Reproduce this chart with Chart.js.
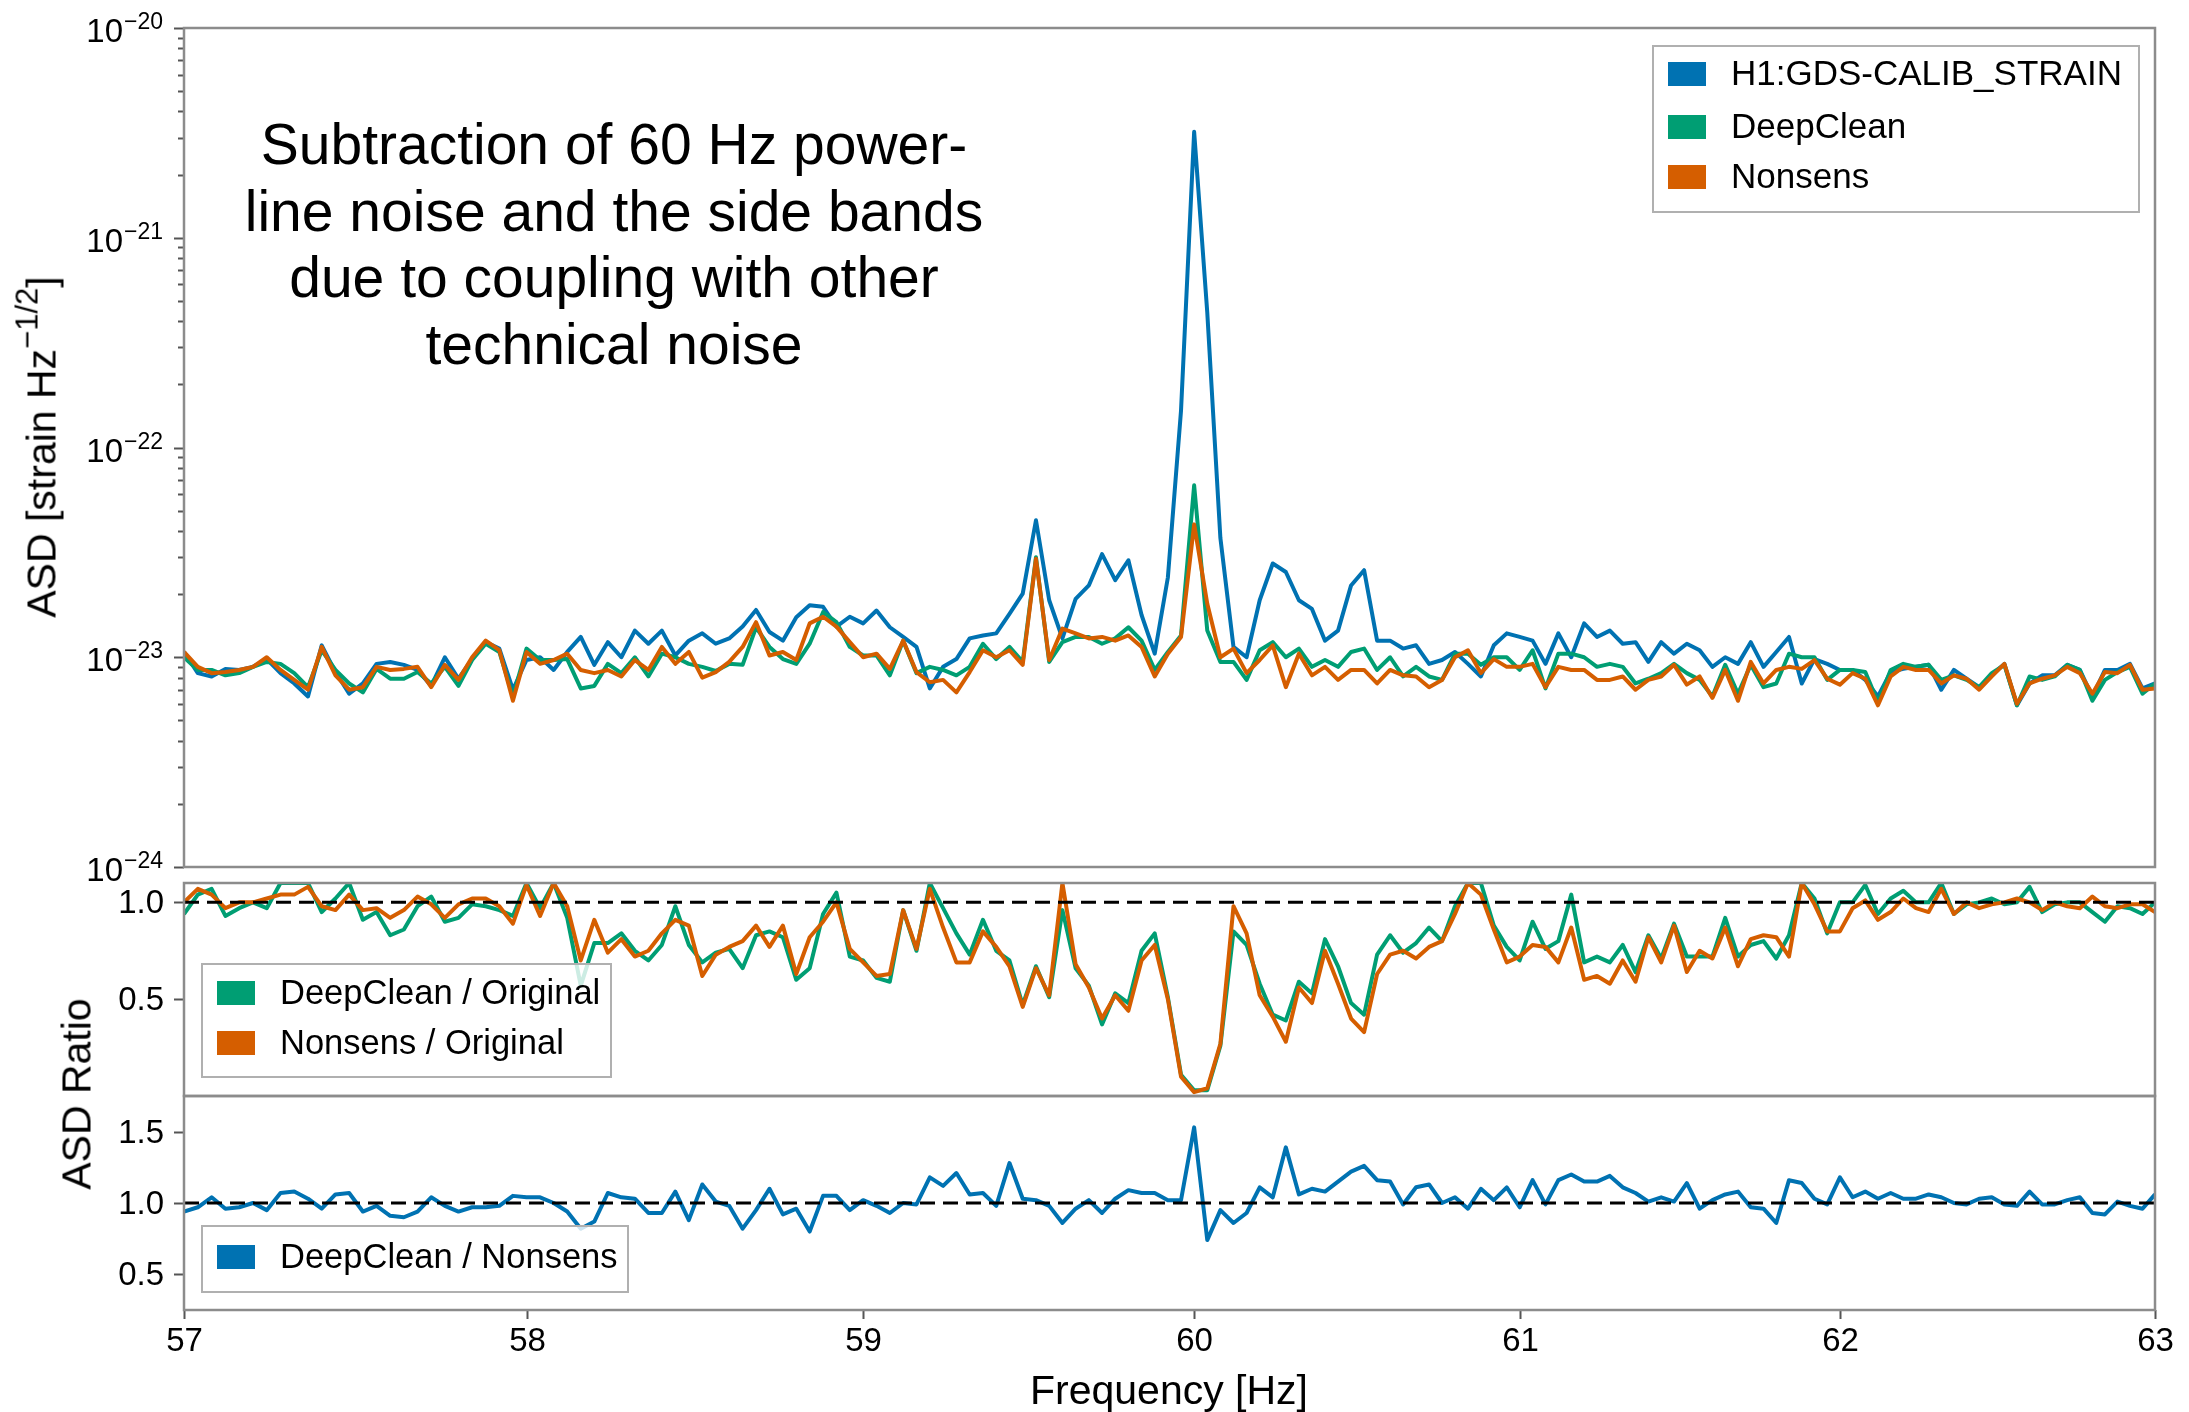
<!DOCTYPE html>
<html>
<head>
<meta charset="utf-8">
<title>ASD subtraction around 60 Hz</title>
<script src="https://cdn.jsdelivr.net/npm/chart.js@4.4.1/dist/chart.umd.min.js"></script>
<style>
  html, body { margin: 0; padding: 0; background: #fff; }
  #page { position: relative; width: 2189px; height: 1412px; overflow: hidden;
          font-family: 'Liberation Sans', Arial, Helvetica, sans-serif; color: #000; }
  #page canvas { position: absolute; left: 0; top: 0; }
  .note { position: absolute; left: 214px; top: 111px; width: 800px; text-align: center;
          font-size: 57px; line-height: 66.5px; }
  .ylab { position: absolute; font-size: 41px; white-space: nowrap;
          transform: translate(-50%, -50%) rotate(-90deg); }
  .ylab sup { font-size: 31px; vertical-align: 18px; line-height: 0; }
  .xlab { position: absolute; font-size: 41px; white-space: nowrap; transform: translate(-50%, -50%); }
</style>
</head>
<body>
<div id="page">
  <canvas id="asd" width="2189" height="1412"></canvas>
  <canvas id="ratio" width="2189" height="1412"></canvas>
  <canvas id="ratio2" width="2189" height="1412"></canvas>
  <div class="note">Subtraction of 60 Hz power-<br>line noise and the side bands<br>due to coupling with other<br>technical noise</div>
  <div class="ylab" style="left:42px; top:447px;">ASD [strain Hz<sup>−1/2</sup>]</div>
  <div class="ylab" style="left:77px; top:1094px;">ASD Ratio</div>
  <div class="xlab" style="left:1169px; top:1390px;">Frequency [Hz]</div>
</div>
<script>
// spectrum sampled every 0.04 Hz from 57 Hz; ASD values in units of 1e-23 strain/sqrt(Hz)
const F_START = 57;
const F_STEP = 0.04;
const ASD_UNIT = 1e-23;

const ORIGINAL = [
  1.06, 0.84, 0.81, 0.88, 0.87, 0.90, 0.98, 0.84, 0.75, 0.65,
  1.14, 0.85, 0.67, 0.75, 0.93, 0.95, 0.92, 0.87, 0.73, 1.00,
  0.79, 0.98, 1.18, 1.10, 0.70, 0.97, 1.00, 0.87, 1.06, 1.25,
  0.92, 1.18, 1.00, 1.34, 1.16, 1.34, 1.02, 1.20, 1.30, 1.16,
  1.23, 1.40, 1.68, 1.32, 1.20, 1.55, 1.77, 1.74, 1.40, 1.56,
  1.45, 1.67, 1.39, 1.25, 1.12, 0.71, 0.90, 0.98, 1.23, 1.27,
  1.30, 1.61, 2.01, 4.50, 1.87, 1.23, 1.90, 2.20, 3.10, 2.33,
  2.90, 1.59, 1.04, 2.40, 15.0, 320, 44.0, 3.70, 1.12, 1.00,
  1.87, 2.80, 2.55, 1.87, 1.70, 1.20, 1.34, 2.20, 2.60, 1.20,
  1.20, 1.10, 1.14, 0.93, 0.97, 1.06, 0.93, 0.81, 1.14, 1.30,
  1.25, 1.20, 0.93, 1.30, 1.00, 1.45, 1.25, 1.34, 1.16, 1.18,
  0.95, 1.18, 1.04, 1.16, 1.08, 0.90, 1.00, 0.93, 1.18, 0.90,
  1.06, 1.25, 0.75, 0.98, 0.93, 0.87, 0.87, 0.78, 0.65, 0.85,
  0.88, 0.90, 0.92, 0.70, 0.87, 0.79, 0.72, 0.82, 0.93, 0.59,
  0.75, 0.82, 0.82, 0.92, 0.87, 0.65, 0.87, 0.87, 0.93, 0.71,
  0.75
];

const DEEPCLEAN = [
  1.00, 0.87, 0.87, 0.82, 0.84, 0.90, 0.95, 0.93, 0.84, 0.72,
  1.08, 0.87, 0.75, 0.68, 0.88, 0.79, 0.79, 0.85, 0.75, 0.90,
  0.73, 0.97, 1.16, 1.06, 0.65, 1.10, 0.97, 0.97, 0.98, 0.71,
  0.73, 0.93, 0.84, 1.00, 0.81, 1.04, 1.00, 0.93, 0.90, 0.86,
  0.93, 0.92, 1.39, 1.12, 0.98, 0.93, 1.16, 1.64, 1.47, 1.12,
  1.02, 1.02, 0.82, 1.20, 0.84, 0.90, 0.87, 0.82, 0.90, 1.16,
  0.98, 1.12, 0.95, 3.00, 0.95, 1.18, 1.25, 1.25, 1.16, 1.23,
  1.39, 1.20, 0.87, 1.06, 1.27, 6.60, 1.34, 0.95, 0.95, 0.78,
  1.08, 1.18, 1.00, 1.10, 0.90, 0.97, 0.90, 1.06, 1.10, 0.87,
  1.00, 0.81, 0.90, 0.81, 0.78, 1.04, 1.04, 0.92, 1.00, 1.00,
  0.87, 1.08, 0.71, 1.04, 1.04, 1.00, 0.90, 0.93, 0.90, 0.75,
  0.79, 0.84, 0.93, 0.84, 0.78, 0.65, 0.92, 0.67, 0.92, 0.72,
  0.75, 1.04, 1.00, 1.00, 0.78, 0.87, 0.87, 0.85, 0.61, 0.87,
  0.93, 0.90, 0.92, 0.78, 0.82, 0.78, 0.72, 0.84, 0.92, 0.59,
  0.81, 0.78, 0.81, 0.92, 0.87, 0.62, 0.78, 0.85, 0.90, 0.67,
  0.75
];

const NONSENS = [
  1.06, 0.90, 0.84, 0.85, 0.87, 0.90, 1.00, 0.87, 0.78, 0.70,
  1.12, 0.82, 0.70, 0.72, 0.90, 0.87, 0.88, 0.90, 0.72, 0.92,
  0.78, 1.00, 1.20, 1.08, 0.62, 1.06, 0.93, 0.97, 1.04, 0.87,
  0.84, 0.87, 0.81, 0.97, 0.87, 1.12, 0.93, 1.06, 0.80, 0.85,
  0.95, 1.12, 1.47, 1.02, 1.06, 0.97, 1.45, 1.56, 1.40, 1.18,
  1.00, 1.04, 0.88, 1.20, 0.85, 0.76, 0.78, 0.68, 0.85, 1.08,
  1.00, 1.08, 0.92, 2.95, 0.97, 1.37, 1.30, 1.23, 1.25, 1.20,
  1.27, 1.12, 0.81, 1.04, 1.25, 4.30, 1.80, 1.00, 1.10, 0.84,
  0.97, 1.14, 0.72, 1.04, 0.82, 0.90, 0.78, 0.87, 0.87, 0.75,
  0.87, 0.82, 0.81, 0.72, 0.78, 1.00, 1.08, 0.84, 0.98, 0.90,
  0.90, 0.93, 0.72, 0.90, 0.87, 0.87, 0.78, 0.78, 0.81, 0.70,
  0.78, 0.81, 0.92, 0.74, 0.81, 0.64, 0.87, 0.62, 0.95, 0.75,
  0.87, 0.90, 0.88, 0.97, 0.79, 0.74, 0.84, 0.79, 0.59, 0.81,
  0.90, 0.87, 0.87, 0.75, 0.82, 0.79, 0.70, 0.81, 0.93, 0.60,
  0.75, 0.79, 0.82, 0.90, 0.84, 0.67, 0.85, 0.84, 0.92, 0.70,
  0.71
];

const DC_OVER_ORIG = [
  0.94, 1.04, 1.07, 0.93, 0.97, 1.00, 0.97, 1.10, 1.10, 1.10,
  0.95, 1.02, 1.10, 0.91, 0.95, 0.83, 0.86, 0.98, 1.03, 0.90,
  0.92, 0.99, 0.98, 0.96, 0.93, 1.10, 0.97, 1.10, 0.92, 0.57,
  0.79, 0.79, 0.84, 0.75, 0.70, 0.78, 0.98, 0.78, 0.69, 0.74,
  0.76, 0.66, 0.83, 0.85, 0.82, 0.60, 0.66, 0.94, 1.05, 0.72,
  0.70, 0.61, 0.59, 0.96, 0.75, 1.10, 0.97, 0.84, 0.73, 0.91,
  0.75, 0.70, 0.47, 0.67, 0.51, 0.96, 0.66, 0.57, 0.37, 0.53,
  0.48, 0.75, 0.84, 0.51, 0.11, 0.03, 0.03, 0.26, 0.85, 0.78,
  0.58, 0.42, 0.39, 0.59, 0.53, 0.81, 0.67, 0.48, 0.42, 0.73,
  0.83, 0.74, 0.79, 0.87, 0.80, 0.98, 1.10, 1.10, 0.88, 0.77,
  0.70, 0.90, 0.76, 0.80, 1.04, 0.69, 0.72, 0.69, 0.78, 0.64,
  0.83, 0.71, 0.89, 0.72, 0.72, 0.72, 0.92, 0.72, 0.78, 0.80,
  0.71, 0.83, 1.10, 1.02, 0.84, 1.00, 1.00, 1.09, 0.94, 1.02,
  1.06, 1.00, 1.00, 1.10, 0.94, 0.99, 1.00, 1.02, 0.99, 1.00,
  1.08, 0.95, 0.99, 1.00, 1.00, 0.95, 0.90, 0.98, 0.97, 0.94,
  1.00
];

const NS_OVER_ORIG = [
  1.00, 1.07, 1.04, 0.97, 1.00, 1.00, 1.02, 1.04, 1.04, 1.08,
  0.98, 0.96, 1.04, 0.96, 0.97, 0.92, 0.96, 1.03, 0.99, 0.92,
  0.99, 1.02, 1.02, 0.98, 0.89, 1.09, 0.93, 1.10, 0.98, 0.70,
  0.91, 0.74, 0.81, 0.72, 0.75, 0.84, 0.91, 0.88, 0.62, 0.73,
  0.77, 0.80, 0.88, 0.77, 0.88, 0.63, 0.82, 0.90, 1.00, 0.76,
  0.69, 0.62, 0.63, 0.96, 0.76, 1.07, 0.87, 0.69, 0.69, 0.85,
  0.77, 0.67, 0.46, 0.66, 0.52, 1.10, 0.68, 0.56, 0.40, 0.52,
  0.44, 0.70, 0.78, 0.50, 0.10, 0.02, 0.04, 0.27, 0.98, 0.84,
  0.52, 0.41, 0.28, 0.56, 0.48, 0.75, 0.58, 0.40, 0.33, 0.63,
  0.73, 0.75, 0.71, 0.77, 0.80, 0.94, 1.10, 1.04, 0.86, 0.69,
  0.72, 0.78, 0.77, 0.69, 0.87, 0.60, 0.62, 0.58, 0.70, 0.59,
  0.82, 0.69, 0.88, 0.64, 0.75, 0.71, 0.87, 0.67, 0.81, 0.83,
  0.82, 0.72, 1.10, 0.99, 0.85, 0.85, 0.97, 1.01, 0.91, 0.95,
  1.02, 0.97, 0.95, 1.07, 0.94, 1.00, 0.97, 0.99, 1.00, 1.02,
  1.00, 0.96, 1.00, 0.98, 0.97, 1.03, 0.98, 0.97, 0.99, 0.99,
  0.95
];

const DC_OVER_NS = [
  0.94, 0.97, 1.04, 0.96, 0.97, 1.00, 0.95, 1.07, 1.08, 1.03,
  0.96, 1.06, 1.07, 0.94, 0.98, 0.91, 0.90, 0.94, 1.04, 0.98,
  0.94, 0.97, 0.97, 0.98, 1.05, 1.04, 1.04, 1.00, 0.94, 0.82,
  0.87, 1.07, 1.04, 1.03, 0.93, 0.93, 1.08, 0.88, 1.13, 1.01,
  0.98, 0.82, 0.95, 1.10, 0.92, 0.96, 0.80, 1.05, 1.05, 0.95,
  1.02, 0.98, 0.93, 1.00, 0.99, 1.18, 1.12, 1.21, 1.06, 1.07,
  0.98, 1.28, 1.03, 1.02, 0.98, 0.86, 0.96, 1.02, 0.93, 1.03,
  1.09, 1.07, 1.07, 1.02, 1.02, 1.53, 0.74, 0.95, 0.86, 0.93,
  1.11, 1.04, 1.39, 1.06, 1.10, 1.08, 1.15, 1.22, 1.26, 1.16,
  1.15, 0.99, 1.11, 1.13, 1.00, 1.04, 0.96, 1.10, 1.02, 1.11,
  0.97, 1.16, 0.99, 1.16, 1.20, 1.15, 1.15, 1.19, 1.11, 1.07,
  1.01, 1.04, 1.01, 1.14, 0.96, 1.02, 1.06, 1.08, 0.97, 0.96,
  0.86, 1.16, 1.14, 1.03, 0.99, 1.18, 1.04, 1.08, 1.03, 1.07,
  1.03, 1.03, 1.06, 1.04, 1.00, 0.99, 1.03, 1.04, 0.99, 0.98,
  1.08, 0.99, 0.99, 1.02, 1.04, 0.93, 0.92, 1.01, 0.98, 0.96,
  1.06
];

const X_TICKS = [57, 58, 59, 60, 61, 62, 63];
const ASD_DECADES = [-24, -23, -22, -21, -20];
const RATIO_TICKS = [0.5, 1.0];
const RATIO2_TICKS = [0.5, 1.0, 1.5];
const RATIO_REF = 1.0;

const FREQS = ORIGINAL.map((_, i) => +(F_START + i * F_STEP).toFixed(2));

const BLUE = '#0072b2';
const GREEN = '#009e73';
const ORANGE = '#d55e00';
const FONT = "'Liberation Sans', Arial, Helvetica, sans-serif";
const SPINE = '#8c8c8c';

// frame, tick marks and tick labels, placed through the chart's own scales
const frame = {
  id: 'frame',
  afterDraw(chart, args, o) {
    const { ctx, chartArea: a, scales } = chart;
    ctx.save();
    ctx.strokeStyle = '#555';
    ctx.lineWidth = 2;
    ctx.fillStyle = '#000';

    const ytick = (v, len) => {
      const y = Math.round(scales.y.getPixelForValue(v)) + 0.5;
      ctx.beginPath(); ctx.moveTo(a.left - len, y); ctx.lineTo(a.left, y); ctx.stroke();
      return y;
    };

    if (o.logDecades) {
      for (let i = 0; i < o.logDecades.length - 1; i++) {
        for (let k = 2; k <= 9; k++) ytick(k * Math.pow(10, o.logDecades[i]), 6);
      }
      for (const d of o.logDecades) {
        const y = ytick(Math.pow(10, d), 10);
        const sup = '\u2212' + Math.abs(d);
        ctx.font = '23px ' + FONT;
        const ws = ctx.measureText(sup).width;
        ctx.font = '33px ' + FONT;
        const wb = ctx.measureText('10').width;
        const right = a.left - 21;
        ctx.textAlign = 'left';
        ctx.textBaseline = 'alphabetic';
        ctx.fillText('10', right - ws - wb - 1, y + 13);
        ctx.font = '23px ' + FONT;
        ctx.fillText(sup, right - ws, y);
      }
    }
    if (o.linTicks) {
      ctx.font = '33px ' + FONT;
      ctx.textAlign = 'right';
      ctx.textBaseline = 'middle';
      for (const v of o.linTicks) {
        const y = ytick(v, 10);
        ctx.fillText(v.toFixed(1), a.left - 20, y + 1);
      }
    }
    if (o.xTicks) {
      ctx.font = '33px ' + FONT;
      ctx.textAlign = 'center';
      ctx.textBaseline = 'alphabetic';
      for (const f of o.xTicks) {
        const x = Math.round(scales.x.getPixelForValue(f)) + 0.5;
        ctx.beginPath(); ctx.moveTo(x, a.bottom); ctx.lineTo(x, a.bottom + 9); ctx.stroke();
        ctx.fillText(String(f), x, a.bottom + 41);
      }
    }

    ctx.strokeStyle = SPINE;
    ctx.lineWidth = 2.5;
    ctx.strokeRect(a.left, a.top, a.right - a.left, a.bottom - a.top);
    ctx.restore();
  }
};

// framed legend built from the chart's datasets
const boxLegend = {
  id: 'boxLegend',
  afterDatasetsDraw(chart, args, o) {
    const { ctx } = chart;
    const items = chart.data.datasets.filter(d => d.label);
    ctx.save();
    ctx.fillStyle = 'rgba(255,255,255,0.8)';
    ctx.fillRect(o.x, o.y, o.w, o.h);
    ctx.strokeStyle = '#b0b0b0';
    ctx.lineWidth = 2;
    ctx.strokeRect(o.x, o.y, o.w, o.h);
    ctx.font = o.fontSize + 'px ' + FONT;
    ctx.textAlign = 'left';
    ctx.textBaseline = 'middle';
    items.forEach((d, i) => {
      const cy = o.rows[i];
      ctx.fillStyle = d.borderColor;
      ctx.fillRect(o.x + 15, cy - 12, 38, 24);
      ctx.fillStyle = '#000';
      ctx.fillText(d.label, o.x + 78, cy + 1);
    });
    ctx.restore();
  }
};

function baseOptions(padding, yScale, frameOpts, legendOpts) {
  return {
    responsive: false,
    animation: false,
    events: [],
    layout: { padding },
    elements: {
      line: { borderWidth: 4, tension: 0, borderJoinStyle: 'round', borderCapStyle: 'butt' },
      point: { radius: 0 }
    },
    scales: {
      x: { type: 'logarithmic', min: X_TICKS[0], max: X_TICKS[X_TICKS.length - 1], display: false },
      y: Object.assign({ display: false }, yScale)
    },
    plugins: {
      legend: { display: false },
      tooltip: { enabled: false },
      frame: frameOpts,
      boxLegend: legendOpts
    }
  };
}

function refLine() {
  return {
    data: [{ x: X_TICKS[0], y: RATIO_REF }, { x: X_TICKS[X_TICKS.length - 1], y: RATIO_REF }],
    borderColor: '#000', borderWidth: 3, borderDash: [15, 8], order: -1
  };
}

new Chart(document.getElementById('asd'), {
  type: 'line',
  data: {
    labels: FREQS,
    datasets: [
      { label: 'H1:GDS-CALIB_STRAIN', data: ORIGINAL.map(v => v * ASD_UNIT), borderColor: BLUE, order: 2 },
      { label: 'DeepClean', data: DEEPCLEAN.map(v => v * ASD_UNIT), borderColor: GREEN, order: 1 },
      { label: 'Nonsens', data: NONSENS.map(v => v * ASD_UNIT), borderColor: ORANGE, order: 0 }
    ]
  },
  options: baseOptions(
    { left: 184, right: 34, top: 28, bottom: 1412 - 867 },
    { type: 'logarithmic', min: 1e-24, max: 1e-20 },
    { logDecades: ASD_DECADES },
    { x: 1653, y: 46, w: 486, h: 166, rows: [74, 127, 177], fontSize: 35 }
  ),
  plugins: [frame, boxLegend]
});

new Chart(document.getElementById('ratio'), {
  type: 'line',
  data: {
    labels: FREQS,
    datasets: [
      { label: 'DeepClean / Original', data: DC_OVER_ORIG, borderColor: GREEN, order: 1 },
      { label: 'Nonsens / Original', data: NS_OVER_ORIG, borderColor: ORANGE, order: 0 },
      refLine()
    ]
  },
  options: baseOptions(
    { left: 184, right: 34, top: 883, bottom: 1412 - 1096 },
    { type: 'linear', min: 0, max: 1.1 },
    { linTicks: RATIO_TICKS },
    { x: 202, y: 964, w: 409, h: 113, rows: [993, 1043], fontSize: 34.5 }
  ),
  plugins: [frame, boxLegend]
});

new Chart(document.getElementById('ratio2'), {
  type: 'line',
  data: {
    labels: FREQS,
    datasets: [
      { label: 'DeepClean / Nonsens', data: DC_OVER_NS, borderColor: BLUE, order: 0 },
      refLine()
    ]
  },
  options: baseOptions(
    { left: 184, right: 34, top: 1096, bottom: 1412 - 1310 },
    { type: 'linear', min: 0.25, max: 1.75 },
    { linTicks: RATIO2_TICKS, xTicks: X_TICKS },
    { x: 202, y: 1226, w: 426, h: 66, rows: [1257], fontSize: 34.5 }
  ),
  plugins: [frame, boxLegend]
});
</script>
</body>
</html>
